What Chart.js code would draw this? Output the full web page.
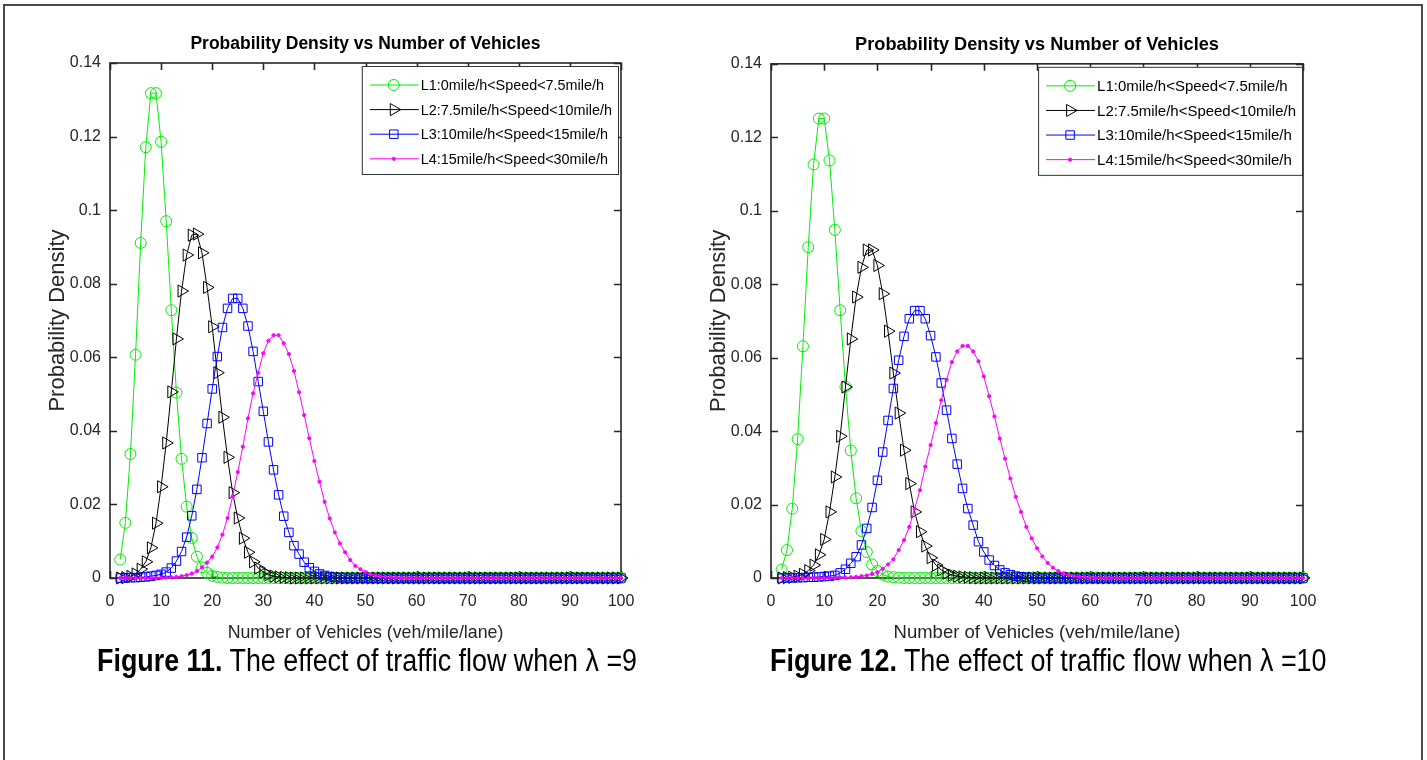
<!DOCTYPE html>
<html>
<head>
<meta charset="utf-8">
<script src="https://cdn.jsdelivr.net/npm/chart.js@4.4.1/dist/chart.umd.min.js"></script>
<style>
  body { margin: 0; background: #fff; width: 1427px; height: 760px; overflow: hidden; position: relative; }
  .frame { position: absolute; left: 3px; top: 4px; width: 1416px; height: 800px; border: 2px solid #4a4a4a; border-bottom: none; }
  canvas { position: absolute; top: 0; }
  #chartL { left: 0; }
  #chartR { left: 700px; }
  .caption { position: absolute; top: 643px; font-family: 'Liberation Sans', Arial, sans-serif; font-size: 31px; line-height: 36px; color: #000; white-space: nowrap; transform: scaleX(0.867); transform-origin: left center; }
</style>
</head>
<body>
<div class="frame"></div>
<canvas id="chartL" width="700" height="650"></canvas>
<canvas id="chartR" width="727" height="650"></canvas>
<div class="caption" style="left:97px"><b>Figure 11.</b> The effect of traffic flow when λ =9</div>
<div class="caption" style="left:770px"><b>Figure 12.</b> The effect of traffic flow when λ =10</div>
<script>
// number of vehicles (x) shared by every curve
const vehicles = [
  2, 3, 4, 5, 6, 7, 8, 9, 10,
  11, 12, 13, 14, 15, 16, 17, 18, 19, 20,
  21, 22, 23, 24, 25, 26, 27, 28, 29, 30,
  31, 32, 33, 34, 35, 36, 37, 38, 39, 40,
  41, 42, 43, 44, 45, 46, 47, 48, 49, 50,
  51, 52, 53, 54, 55, 56, 57, 58, 59, 60,
  61, 62, 63, 64, 65, 66, 67, 68, 69, 70,
  71, 72, 73, 74, 75, 76, 77, 78, 79, 80,
  81, 82, 83, 84, 85, 86, 87, 88, 89, 90,
  91, 92, 93, 94, 95, 96, 97, 98, 99, 100
];

const seriesLabels = [
  'L1:0mile/h<Speed<7.5mile/h',
  'L2:7.5mile/h<Speed<10mile/h',
  'L3:10mile/h<Speed<15mile/h',
  'L4:15mile/h<Speed<30mile/h'
];

const xTicks = [0, 10, 20, 30, 40, 50, 60, 70, 80, 90, 100];
const yTicks = [0, 0.02, 0.04, 0.06, 0.08, 0.1, 0.12, 0.14];

// Figure 11, lambda = 9
const l1Lambda9 = [
  0.0050, 0.0150, 0.0337, 0.0607, 0.0911, 0.1171, 0.1318, 0.1318, 0.1186,
  0.0970, 0.0728, 0.0504, 0.0324, 0.0194, 0.0109, 0.0058, 0.0029, 0.0014, 0.0006,
  0.0003, 0.0001, 0, 0, 0, 0, 0, 0, 0, 0,
  0, 0, 0, 0, 0, 0, 0, 0, 0, 0,
  0, 0, 0, 0, 0, 0, 0, 0, 0, 0,
  0, 0, 0, 0, 0, 0, 0, 0, 0, 0,
  0, 0, 0, 0, 0, 0, 0, 0, 0, 0,
  0, 0, 0, 0, 0, 0, 0, 0, 0, 0,
  0, 0, 0, 0, 0, 0, 0, 0, 0, 0,
  0, 0, 0, 0, 0, 0, 0, 0, 0, 0
];
const l2Lambda9 = [
  0, 0.0001, 0.0004, 0.0011, 0.0024, 0.0044, 0.0082, 0.0149, 0.0248,
  0.0367, 0.0506, 0.0650, 0.0780, 0.0878, 0.0932, 0.0935, 0.0884, 0.0790, 0.0683,
  0.0558, 0.0437, 0.0328, 0.0232, 0.0163, 0.0108, 0.0070, 0.0044, 0.0027, 0.0016,
  0.0009, 0.0005, 0.0003, 0.0002, 0.0001, 0, 0, 0, 0, 0,
  0, 0, 0, 0, 0, 0, 0, 0, 0, 0,
  0, 0, 0, 0, 0, 0, 0, 0, 0, 0,
  0, 0, 0, 0, 0, 0, 0, 0, 0, 0,
  0, 0, 0, 0, 0, 0, 0, 0, 0, 0,
  0, 0, 0, 0, 0, 0, 0, 0, 0, 0,
  0, 0, 0, 0, 0, 0, 0, 0, 0, 0
];
const l3Lambda9 = [
  0, 0, 0.0001, 0.0001, 0.0002, 0.0003, 0.0005, 0.0007, 0.0010,
  0.0016, 0.0027, 0.0046, 0.0072, 0.0111, 0.0169, 0.0241, 0.0327, 0.0420, 0.0514,
  0.0602, 0.0681, 0.0733, 0.0760, 0.0760, 0.0733, 0.0685, 0.0616, 0.0534, 0.0453,
  0.0370, 0.0294, 0.0226, 0.0168, 0.0124, 0.0088, 0.0065, 0.0043, 0.0028, 0.0018,
  0.0011, 0.0007, 0.0004, 0.0002, 0.0001, 0, 0, 0, 0, 0,
  0, 0, 0, 0, 0, 0, 0, 0, 0, 0,
  0, 0, 0, 0, 0, 0, 0, 0, 0, 0,
  0, 0, 0, 0, 0, 0, 0, 0, 0, 0,
  0, 0, 0, 0, 0, 0, 0, 0, 0, 0,
  0, 0, 0, 0, 0, 0, 0, 0, 0, 0
];
const l4Lambda9 = [
  0, 0, 0, 0, 0, 0, 0, 0, 0,
  0.0001, 0.0002, 0.0003, 0.0005, 0.0008, 0.0012, 0.0019, 0.0029, 0.0042, 0.0058,
  0.0083, 0.0118, 0.0163, 0.0222, 0.0288, 0.0357, 0.0434, 0.0502, 0.0558, 0.0611,
  0.0645, 0.0660, 0.0660, 0.0638, 0.0609, 0.0563, 0.0505, 0.0443, 0.0380, 0.0318,
  0.0262, 0.0207, 0.0162, 0.0124, 0.0094, 0.0070, 0.0049, 0.0033, 0.0024, 0.0016,
  0.0010, 0.0007, 0.0004, 0.0003, 0.0002, 0.0001, 0, 0, 0, 0,
  0, 0, 0, 0, 0, 0, 0, 0, 0, 0,
  0, 0, 0, 0, 0, 0, 0, 0, 0, 0,
  0, 0, 0, 0, 0, 0, 0, 0, 0, 0,
  0, 0, 0, 0, 0, 0, 0, 0, 0, 0
];

// Figure 12, lambda = 10
const l1Lambda10 = [
  0.0023, 0.0076, 0.0189, 0.0378, 0.0631, 0.0901, 0.1126, 0.1251, 0.1251,
  0.1137, 0.0948, 0.0729, 0.0521, 0.0347, 0.0217, 0.0128, 0.0071, 0.0037, 0.0019,
  0.0009, 0.0004, 0.0002, 0.0001, 0, 0, 0, 0, 0, 0,
  0, 0, 0, 0, 0, 0, 0, 0, 0, 0,
  0, 0, 0, 0, 0, 0, 0, 0, 0, 0,
  0, 0, 0, 0, 0, 0, 0, 0, 0, 0,
  0, 0, 0, 0, 0, 0, 0, 0, 0, 0,
  0, 0, 0, 0, 0, 0, 0, 0, 0, 0,
  0, 0, 0, 0, 0, 0, 0, 0, 0, 0,
  0, 0, 0, 0, 0, 0, 0, 0, 0, 0
];
const l2Lambda10 = [
  0, 0.0001, 0.0002, 0.0005, 0.0010, 0.0020, 0.0035, 0.0063, 0.0105,
  0.0180, 0.0275, 0.0386, 0.0520, 0.0651, 0.0765, 0.0846, 0.0893, 0.0893, 0.0851,
  0.0774, 0.0672, 0.0558, 0.0449, 0.0348, 0.0257, 0.0180, 0.0126, 0.0087, 0.0055,
  0.0035, 0.0022, 0.0013, 0.0008, 0.0005, 0.0003, 0.0002, 0.0001, 0, 0,
  0, 0, 0, 0, 0, 0, 0, 0, 0, 0,
  0, 0, 0, 0, 0, 0, 0, 0, 0, 0,
  0, 0, 0, 0, 0, 0, 0, 0, 0, 0,
  0, 0, 0, 0, 0, 0, 0, 0, 0, 0,
  0, 0, 0, 0, 0, 0, 0, 0, 0, 0,
  0, 0, 0, 0, 0, 0, 0, 0, 0, 0
];
const l3Lambda10 = [
  0, 0, 0, 0.0001, 0.0001, 0.0002, 0.0002, 0.0003, 0.0004,
  0.0005, 0.0007, 0.0014, 0.0024, 0.0040, 0.0058, 0.0090, 0.0135, 0.0192, 0.0266,
  0.0343, 0.0429, 0.0516, 0.0593, 0.0658, 0.0706, 0.0728, 0.0728, 0.0706, 0.0660,
  0.0602, 0.0531, 0.0457, 0.0380, 0.0310, 0.0244, 0.0189, 0.0144, 0.0099, 0.0071,
  0.0049, 0.0034, 0.0022, 0.0014, 0.0009, 0.0005, 0.0003, 0.0002, 0.0001, 0,
  0, 0, 0, 0, 0, 0, 0, 0, 0, 0,
  0, 0, 0, 0, 0, 0, 0, 0, 0, 0,
  0, 0, 0, 0, 0, 0, 0, 0, 0, 0,
  0, 0, 0, 0, 0, 0, 0, 0, 0, 0,
  0, 0, 0, 0, 0, 0, 0, 0, 0, 0
];
const l4Lambda10 = [
  0, 0, 0, 0, 0, 0, 0, 0, 0,
  0, 0, 0.0001, 0.0001, 0.0002, 0.0003, 0.0005, 0.0007, 0.0011, 0.0016,
  0.0025, 0.0037, 0.0051, 0.0076, 0.0103, 0.0139, 0.0189, 0.0239, 0.0303, 0.0362,
  0.0422, 0.0484, 0.0540, 0.0588, 0.0617, 0.0632, 0.0632, 0.0617, 0.0590, 0.0549,
  0.0495, 0.0440, 0.0380, 0.0325, 0.0271, 0.0221, 0.0180, 0.0139, 0.0108, 0.0081,
  0.0059, 0.0041, 0.0028, 0.0019, 0.0013, 0.0008, 0.0005, 0.0003, 0.0002, 0.0001,
  0, 0, 0, 0, 0, 0, 0, 0, 0, 0,
  0, 0, 0, 0, 0, 0, 0, 0, 0, 0,
  0, 0, 0, 0, 0, 0, 0, 0, 0, 0,
  0, 0, 0, 0, 0, 0, 0, 0, 0, 0
];

const FONT = "'Liberation Sans', Arial, sans-serif";
const AXIS_COLOR = '#262626';

// matlab-ish line/marker styles, one per series
const seriesStyles = [
  { color: '#00ee00', pointStyle: 'circle', radius: 5.5, rotation: 0, fill: false },
  { color: '#000000', pointStyle: 'triangle', radius: 7, rotation: 90, fill: false },
  { color: '#0000ff', pointStyle: 'rect', radius: 6, rotation: 0, fill: false },
  { color: '#ff00ff', pointStyle: 'circle', radius: 1.6, rotation: 0, fill: true }
];

const toPoints = (ys) => vehicles.map((v, i) => ({ x: v, y: ys[i] }));

const buildDatasets = (seriesList) => seriesList.map((ys, i) => {
  const st = seriesStyles[i];
  return {
    label: seriesLabels[i],
    data: toPoints(ys),
    borderColor: st.color,
    borderWidth: 1,
    pointStyle: st.pointStyle,
    pointRadius: st.radius,
    pointRotation: st.rotation,
    pointBorderColor: st.color,
    pointBackgroundColor: st.fill ? st.color : 'rgba(0,0,0,0)',
    pointBorderWidth: 1,
    tension: 0,
    clip: false,
    order: 4 - i
  };
});

// box around the plot with inward ticks on all four sides
const boxAxes = {
  id: 'boxAxes',
  beforeDatasetsDraw(chart) {
    const { ctx, chartArea: a, scales } = chart;
    const len = 7;
    ctx.save();
    ctx.strokeStyle = AXIS_COLOR;
    ctx.lineWidth = 1.6;
    ctx.strokeRect(a.left, a.top, a.right - a.left, a.bottom - a.top);
    ctx.beginPath();
    xTicks.forEach((t) => {
      const px = Math.round(scales.x.getPixelForValue(t)) + 0.5;
      ctx.moveTo(px, a.bottom); ctx.lineTo(px, a.bottom - len);
      ctx.moveTo(px, a.top); ctx.lineTo(px, a.top + len);
    });
    yTicks.forEach((t) => {
      const py = Math.round(scales.y.getPixelForValue(t)) + 0.5;
      ctx.moveTo(a.left, py); ctx.lineTo(a.left + len, py);
      ctx.moveTo(a.right, py); ctx.lineTo(a.right - len, py);
    });
    ctx.stroke();
    ctx.restore();
  }
};

// legend box inside the top right corner of the plot
const insideLegend = {
  id: 'insideLegend',
  afterDraw(chart, args, opts) {
    const { ctx, chartArea: a } = chart;
    const rowH = 24.6;
    ctx.save();
    ctx.font = opts.fontSize + 'px ' + FONT;
    const textW = Math.max(...seriesLabels.map((s) => ctx.measureText(s).width));
    const boxW = 59 + textW + 6;
    const boxH = 108;
    const left = a.right - opts.inset - boxW;
    const top = a.top + 3;
    ctx.fillStyle = '#fff';
    ctx.fillRect(left, top, boxW, boxH);
    ctx.strokeStyle = '#333';
    ctx.lineWidth = 1;
    ctx.strokeRect(left + 0.5, top + 0.5, boxW, boxH);
    seriesLabels.forEach((label, i) => {
      const st = seriesStyles[i];
      const y = top + 19 + i * rowH;
      ctx.strokeStyle = st.color;
      ctx.lineWidth = 1;
      ctx.beginPath();
      ctx.moveTo(left + 8, y);
      ctx.lineTo(left + 57, y);
      ctx.stroke();
      ctx.fillStyle = st.fill ? st.color : 'rgba(0,0,0,0)';
      Chart.helpers.drawPoint(ctx, {
        pointStyle: st.pointStyle,
        radius: st.radius,
        rotation: st.rotation,
        borderWidth: 1
      }, left + 32, y);
      ctx.fillStyle = '#000';
      ctx.textBaseline = 'middle';
      ctx.textAlign = 'left';
      ctx.fillText(label, left + 59, y + 1);
    });
    ctx.restore();
  }
};

const makeChart = (canvasId, seriesList, opts) => new Chart(document.getElementById(canvasId), {
  type: 'line',
  data: { datasets: buildDatasets(seriesList) },
  options: {
    responsive: false,
    animation: false,
    devicePixelRatio: 1,
    layout: { padding: { left: 0, right: opts.padRight, top: 0, bottom: 0 } },
    plugins: {
      legend: { display: false },
      tooltip: { enabled: false },
      insideLegend: { fontSize: 14.4 * opts.k, inset: opts.inset },
      title: {
        display: true,
        text: 'Probability Density vs Number of Vehicles',
        color: '#000',
        fullSize: false,
        font: { family: FONT, size: 17.5 * opts.k, weight: 'bold', lineHeight: 1.2 },
        padding: { top: 34, bottom: 8 }
      }
    },
    scales: {
      x: {
        type: 'linear',
        min: 0,
        max: 100,
        afterFit: (s) => { s.height = 72; },
        afterBuildTicks: (s) => { s.ticks = xTicks.map((v) => ({ value: v })); },
        grid: { display: false, drawTicks: false },
        border: { display: false },
        ticks: { color: '#262626', padding: 14, font: { family: FONT, size: 16 } },
        title: {
          display: true,
          text: 'Number of Vehicles (veh/mile/lane)',
          color: '#262626',
          font: { family: FONT, size: 17.8 * opts.k, lineHeight: 1.2 },
          padding: { top: 0, bottom: 6 }
        }
      },
      y: {
        type: 'linear',
        min: 0,
        max: 0.14,
        afterFit: (s) => { s.width = opts.axisW; },
        afterBuildTicks: (s) => { s.ticks = yTicks.map((v) => ({ value: v })); },
        grid: { display: false, drawTicks: false },
        border: { display: false },
        ticks: {
          color: '#262626',
          padding: 9,
          font: { family: FONT, size: 16 },
          callback: (v) => String(Math.round(v * 100) / 100)
        },
        title: {
          display: true,
          text: 'Probability Density',
          color: '#262626',
          font: { family: FONT, size: 22, lineHeight: 1.2 },
          padding: { top: opts.yTitlePad }
        }
      }
    }
  },
  plugins: [boxAxes, insideLegend]
});

makeChart('chartL', [l1Lambda9, l2Lambda9, l3Lambda9, l4Lambda9], { padRight: 79, axisW: 110, yTitlePad: 45, k: 1, inset: 3 });
makeChart('chartR', [l1Lambda10, l2Lambda10, l3Lambda10, l4Lambda10], { padRight: 124, axisW: 71, yTitlePad: 6, k: 1.04, inset: 1 });
</script>
</body>
</html>
